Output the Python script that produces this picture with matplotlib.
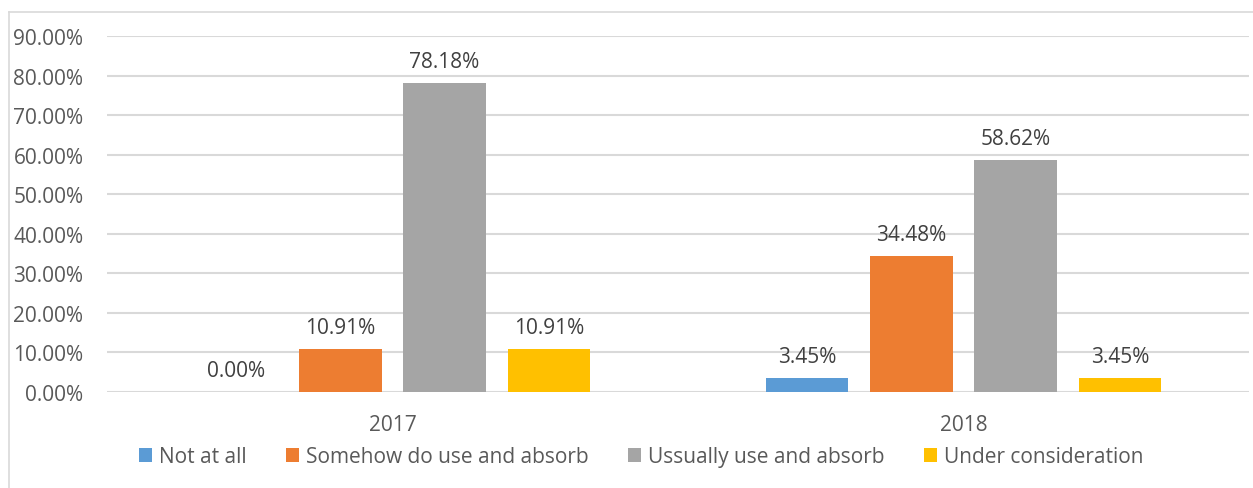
import matplotlib
matplotlib.use("Agg")
import matplotlib.pyplot as plt
from matplotlib.lines import Line2D
from matplotlib.patches import Patch
import numpy as np

years = ["2017", "2018"]
series = ["Not at all", "Somehow do use and absorb", "Ussually use and absorb", "Under consideration"]
not_at_all = [0.00, 3.45]
somehow = [10.91, 34.48]
usually = [78.18, 58.62]
under_consideration = [10.91, 3.45]
y_ticks = [0, 10, 20, 30, 40, 50, 60, 70, 80, 90]

colors = ["#5b9bd5", "#ed7d31", "#a5a5a5", "#ffc000"]
text_color = "#595959"
grid_color = "#d9d9d9"

plt.rcParams["font.family"] = ["Open Sans", "DejaVu Sans"]
fs = 15

fig = plt.figure(figsize=(12.53, 4.89), dpi=100)
ax = fig.add_axes([107 / 1253, 1 - 393 / 489, (1249 - 107) / 1253, (393 - 37) / 489])

values = [not_at_all, somehow, usually, under_consideration]
x = np.arange(len(years))
width = 0.144
step = 0.1825
offsets = (np.arange(len(series)) - 1.5) * step

for i, (name, vals) in enumerate(zip(series, values)):
    bars = ax.bar(x + offsets[i], vals, width=width, color=colors[i], label=name, zorder=3)
    for b, v in zip(bars, vals):
        ax.annotate(f"{v:.2f}%", (b.get_x() + b.get_width() / 2, v),
                    xytext=(0, 8), textcoords="offset points",
                    ha="center", va="bottom", fontsize=fs, color="#404040")

ax.set_xlim(-0.5, 1.5)
ax.set_ylim(0, 90)
ax.set_yticks(y_ticks)
ax.set_yticklabels([f"{t:.2f}%" for t in y_ticks])
ax.set_xticks(x)
ax.set_xticklabels(years)
ax.tick_params(axis="both", length=0, colors=text_color, labelsize=fs)
ax.tick_params(axis="y", pad=17)
ax.tick_params(axis="x", pad=16)
ax.yaxis.grid(True, color=grid_color, linewidth=1.5, zorder=0)
ax.set_axisbelow(True)
for s in ax.spines.values():
    s.set_visible(False)

handles = [Patch(facecolor=c, edgecolor="none") for c in colors]
fig.legend(handles, series, loc="center", bbox_to_anchor=(641 / 1253, 1 - 458 / 489),
           ncol=4, frameon=False, fontsize=fs, labelcolor=text_color,
           handlelength=0.65, handleheight=0.65, handletextpad=0.3, columnspacing=1.9)

# outer chart frame
fig.add_artist(Line2D([8.5 / 1253, 8.5 / 1253], [0, 1 - 12.5 / 489], transform=fig.transFigure,
                      color="#d9d9d9", linewidth=1.2))
fig.add_artist(Line2D([8.5 / 1253, 1], [1 - 12.5 / 489, 1 - 12.5 / 489], transform=fig.transFigure,
                      color="#d9d9d9", linewidth=1.2))

fig.savefig("out.png", dpi=100)
